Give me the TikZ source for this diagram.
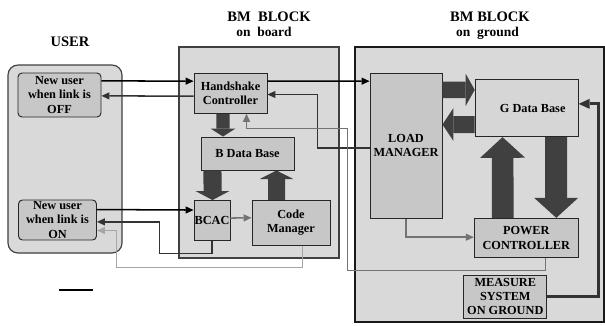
\documentclass[tikz,border=0pt]{standalone}
\usepackage{fontspec}
\setmainfont{Liberation Serif}
\usetikzlibrary{arrows.meta}

\begin{document}
\begin{tikzpicture}[x=0.03cm,y=-0.03cm,line join=miter,
	font=\fontsize{10.5}{12}\selectfont\bfseries,
	frame/.style={draw=black!75,fill=black!15,line width=1pt,inner sep=0pt},
	box/.style={draw=black!85,fill=black!22,line width=0.8pt,align=center,inner sep=0pt},
	thin/.style={line width=1.3pt,-{Triangle[length=0.24cm,width=0.22cm,line width=0pt]}},
	big/.style n args={3}{draw=black!75,line width=#1,-{Triangle[width=#2,length=#3,line width=0pt]}},
	ttl/.style={font=\fontsize{12.4}{14}\selectfont\bfseries},
	sub/.style={font=\fontsize{11.5}{13}\selectfont\bfseries}]
	\useasboundingbox (0,0) rectangle (605,325);
	% blocks
	\node[frame,rounded corners=0.3cm,minimum width=3.42cm,minimum height=5.64cm] (user) at (65,159) {};
	\node[frame,minimum width=4.8cm,minimum height=6.33cm] (board) at (259,152.5) {};
	\node[frame,draw=black!90,minimum width=7.47cm,minimum height=8.25cm] (ground) at (479.5,184.5) {};
	\node[ttl] (usert) at (70,42) {USER};
	\node[ttl] (boardt) at (269,17) {BM\ \ BLOCK};
	\node[sub] (boards) at (264,32) {on\ \ board};
	\node[ttl] (groundt) at (490,17) {BM BLOCK};
	\node[sub] (grounds) at (487.5,33) {on\ \ ground};
	% boxes
	\node[box,rounded corners=0.12cm,minimum width=2.49cm,minimum height=1.32cm] (off) at (59.5,95) {New user\\when link is\\OFF};
	\node[box,rounded corners=0.12cm,minimum width=2.34cm,minimum height=1.2cm] (on) at (57.5,220) {New user\\when link is\\ON};
	\node[box,minimum width=2.19cm,minimum height=1.2cm] (hs) at (230.5,93.3) {Handshake\\Controller};
	\node[box,minimum width=2.79cm,minimum height=0.99cm] (bdb) at (247.5,153.5) {B Data Base};
	\node[box,minimum width=1.08cm,minimum height=1.2cm] (bcac) at (212,220.5) {BCAC};
	\node[box,minimum width=2.34cm,minimum height=1.35cm] (code) at (291,222.8) {Code\\Manager};
	\node[box,minimum width=2.16cm,minimum height=4.35cm] (load) at (406,145.8) {LOAD\\MANAGER};
	\node[box,fill=black!16,minimum width=3.09cm,minimum height=1.72cm] (gdb) at (526.7,108) {\hspace*{0.36cm}G Data Base};
	\node[box,minimum width=3.12cm,minimum height=1.18cm] (pc) at (526.3,238) {POWER\\CONTROLLER};
	\node[box,minimum width=2.48cm,minimum height=1.3cm] (meas) at (505.3,296.7) {MEASURE\\SYSTEM\\ON GROUND};
	% big arrows
	\draw[big={0.4cm}{0.75cm}{0.24cm}] ([xshift=-0.225cm]hs.south) -- ([xshift=-0.735cm]bdb.north);
	\draw[big={0.54cm}{1.02cm}{0.27cm}] ([xshift=-1.05cm]bdb.south) -- ([xshift=0.015cm]bcac.north);
	\draw[big={0.51cm}{1.02cm}{0.26cm}] ([xshift=-0.435cm]code.north) -- ([xshift=0.87cm]bdb.south);
	\draw[big={0.5cm}{0.96cm}{0.27cm}] ([yshift=-0.51cm]load.north east) -- ([yshift=-0.33cm]gdb.north west);
	\draw[big={0.51cm}{0.99cm}{0.33cm}] ([yshift=-1.37cm]gdb.north west) -- ([yshift=-1.55cm]load.north east);
	\draw[big={0.65cm}{1.35cm}{0.62cm}] ([xshift=-0.705cm]pc.north) -- ([xshift=-0.725cm]gdb.south);
	\draw[big={0.66cm}{1.32cm}{0.6cm}] ([xshift=0.88cm]gdb.south) -- ([xshift=0.9cm]pc.north);
	% links
	\draw[thin] ([yshift=-0.25cm]off.north east) -- ([yshift=-0.25cm]hs.north west);
	\draw[thin,black!80] ([yshift=-0.7cm]hs.north west) -- ([yshift=-0.7cm]off.north east);
	\draw[thin] ([yshift=-0.25cm]hs.north east) -- ([yshift=-0.25cm]load.north west);
	\draw[thin,black!80] ([yshift=-2.25cm]load.north west) -- ++(-52,0) |- ([yshift=-0.65cm]hs.north east);
	\draw[thin,black!55] ([xshift=0.57cm]pc.south) -- ++(0,12.5) -| ++(-198,-142) -| ([xshift=0.48cm]hs.south);
	\draw[thin] ([yshift=-0.3cm]on.north east) -- ([yshift=-0.3cm]bcac.north west);
	\draw[thin,black!80] (bcac.south) -- ++(0,12.7) -- ++(-52.7,0) |- ([yshift=-0.67cm]on.north east);
	\draw[thin,black!35] ([xshift=0.34cm]code.south) -- ++(0,21.7) -- ++(-185.7,0) |- ([yshift=-0.93cm]on.north east);
	\draw[thin,black!55] ([yshift=-0.54cm]bcac.north east) -- ([yshift=-0.54cm]code.north west);
	\draw[thin,black!55] (load.south) |- ([yshift=-0.58cm]pc.north west);
	\draw[line width=2.5pt,black!80,-{Triangle[length=0.33cm,width=0.3cm,line width=0pt]}] (meas.east) -- ++(51.6,0) |- ([yshift=-0.75cm]gdb.north east);
	\draw[line width=0.9pt] (59,290) -- (93,290);
\end{tikzpicture}
\end{document}
